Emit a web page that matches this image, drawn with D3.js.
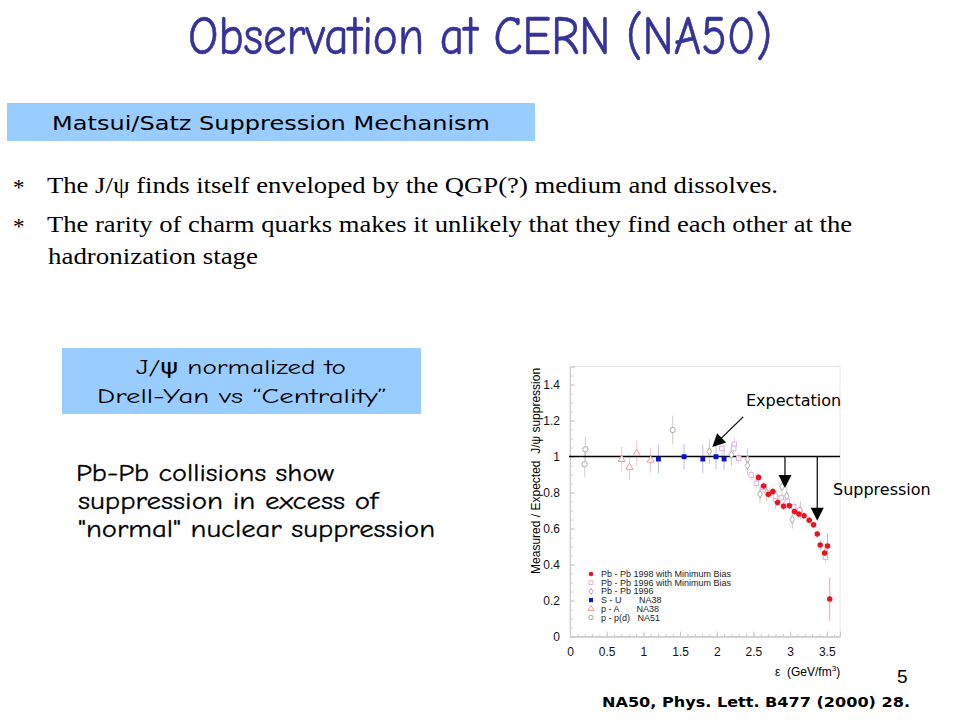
<!DOCTYPE html>
<html lang="en">
<head>
    <meta charset="UTF-8">
    <title>Observation at CERN (NA50)</title>
    <script src="https://d3js.org/d3.v7.min.js"></script>
    <style>
        body { margin: 0; background: #fff; }
        svg { display: block; }
        text { white-space: pre; }
    </style>
</head>
<body>
    <svg id="slide" width="960" height="720"></svg>
    <script>
        // ---- data: [epsilon, ratio, error] ----
        const pbpb98 = [
            [2.57, 0.884, 0.02], [2.64, 0.836, 0.02], [2.705, 0.790, 0.02], [2.765, 0.805, 0.02],
            [2.83, 0.745, 0.02], [2.91, 0.724, 0.02], [2.99, 0.726, 0.02], [3.06, 0.694, 0.02],
            [3.12, 0.681, 0.02], [3.19, 0.671, 0.02], [3.26, 0.646, 0.02], [3.32, 0.621, 0.02],
            [3.37, 0.569, 0.02], [3.41, 0.508, 0.03], [3.47, 0.464, 0.03], [3.51, 0.503, 0.07],
            [3.54, 0.208, 0.12]
        ];
        const pbpb96mb = [
            [2.07, 1.045, 0.04], [2.24, 1.068, 0.04], [2.23, 1.045, 0.03], [2.30, 0.990, 0.03],
            [2.47, 0.897, 0.03], [2.54, 0.851, 0.03], [2.63, 0.830, 0.03], [2.72, 0.800, 0.03],
            [2.80, 0.780, 0.03], [2.88, 0.770, 0.03], [2.96, 0.750, 0.03], [3.05, 0.720, 0.03],
            [3.13, 0.700, 0.03], [3.48, 0.440, 0.04]
        ];
        const pbpb96 = [
            [1.90, 1.027, 0.07], [2.20, 1.010, 0.06], [2.42, 0.984, 0.06], [2.42, 0.950, 0.05],
            [2.59, 0.790, 0.05], [2.68, 0.800, 0.05], [2.80, 0.760, 0.05], [2.89, 0.832, 0.05],
            [2.955, 0.780, 0.05], [3.03, 0.650, 0.05], [3.14, 0.700, 0.05]
        ];
        const su = [
            [1.205, 0.986, 0.08], [1.555, 0.999, 0.07], [1.81, 0.986, 0.08],
            [1.99, 0.999, 0.07], [2.10, 0.986, 0.06]
        ];
        const pA = [
            [0.705, 0.984, 0.07], [0.81, 0.940, 0.07], [0.91, 1.018, 0.07], [1.10, 0.980, 0.07]
        ];
        const pp = [
            [0.21, 1.040, 0.07], [0.20, 0.957, 0.07], [1.40, 1.147, 0.08]
        ];

        const legendLabels = [
            "Pb - Pb 1998 with Minimum Bias",
            "Pb - Pb 1996 with Minimum Bias",
            "Pb - Pb 1996",
            "S - U       NA38",
            "p - A       NA38",
            "p - p(d)   NA51"
        ];
        const xTicks = [0, 0.5, 1, 1.5, 2, 2.5, 3, 3.5];
        const yTicks = [0, 0.2, 0.4, 0.6, 0.8, 1, 1.2, 1.4];

        // annotations in data units
        const expectArrow = { from: [2.36, 1.22], to: [1.94, 1.053] };
        const suppArrows = [[2.93, 0.825], [3.37, 0.643]];

        const bullets = [
            "The J/\u03C8 finds itself enveloped by the QGP(?) medium and dissolves.",
            "The rarity of charm quarks makes it unlikely that they find each other at the",
            "hadronization stage"
        ];
        const note = ["Pb-Pb collisions show", "suppression in excess of", "\"normal\" nuclear suppression"];

        const svg = d3.select("#slide");
        const comic = "'Comic Sans MS', 'Comic Neue', 'DejaVu Sans', sans-serif";
        const arial = "'Liberation Sans', Arial, sans-serif";
        const verdana = "'DejaVu Sans', Verdana, sans-serif";
        const serif = "'Liberation Serif', 'Times New Roman', serif";

        // ---- slide text ----
        svg.append("text")
            .attr("x", 188).attr("y", 54)
            .attr("textLength", 584).attr("lengthAdjust", "spacingAndGlyphs")
            .attr("font-family", comic).attr("font-size", 54)
            .attr("fill", "#333399").attr("stroke", "#333399").attr("stroke-width", 0.6)
            .text("Observation at CERN (NA50)");

        svg.append("rect").attr("x", 7).attr("y", 103).attr("width", 528).attr("height", 38).attr("fill", "#99ccff");
        svg.append("text")
            .attr("x", 52).attr("y", 130)
            .attr("textLength", 438).attr("lengthAdjust", "spacingAndGlyphs")
            .attr("font-family", verdana).attr("font-size", 20)
            .text("Matsui/Satz Suppression Mechanism");

        [193, 232].forEach(yy => {
            svg.append("text").attr("x", 13).attr("y", yy + 2)
                .attr("font-family", serif).attr("font-size", 23).text("*");
        });
        const bulletPos = [[47, 193, 731], [47, 232, 805], [48, 264, 210]];
        bullets.forEach((t, i) => {
            svg.append("text")
                .attr("x", bulletPos[i][0]).attr("y", bulletPos[i][1])
                .attr("textLength", bulletPos[i][2]).attr("lengthAdjust", "spacingAndGlyphs")
                .attr("font-family", serif).attr("font-size", 24)
                .text(t);
        });

        svg.append("rect").attr("x", 62).attr("y", 348).attr("width", 359).attr("height", 66).attr("fill", "#99ccff");
        svg.append("text").attr("x", 136).attr("y", 374)
            .attr("textLength", 210).attr("lengthAdjust", "spacingAndGlyphs")
            .attr("font-family", comic).attr("font-size", 21).text("J/\u03C8 normalized to");
        svg.append("text").attr("x", 97).attr("y", 403)
            .attr("textLength", 290).attr("lengthAdjust", "spacingAndGlyphs")
            .attr("font-family", comic).attr("font-size", 21).text("Drell-Yan vs \u201CCentrality\u201D");

        const notePos = [[76, 481, 258], [78, 509, 300], [78, 537, 357]];
        note.forEach((t, i) => {
            svg.append("text")
                .attr("x", notePos[i][0]).attr("y", notePos[i][1])
                .attr("textLength", notePos[i][2]).attr("lengthAdjust", "spacingAndGlyphs")
                .attr("font-family", comic).attr("font-size", 25)
                .attr("stroke", "#000").attr("stroke-width", 0.3)
                .text(t);
        });

        svg.append("text").attr("x", 897).attr("y", 683)
            .attr("font-family", arial).attr("font-size", 19).text("5");
        svg.append("text").attr("x", 602).attr("y", 707)
            .attr("textLength", 308).attr("lengthAdjust", "spacingAndGlyphs")
            .attr("font-family", verdana).attr("font-weight", "bold")
            .attr("font-size", 14).text("NA50, Phys. Lett. B477 (2000) 28.");

        // ---- chart ----
        const x = d3.scaleLinear().domain([0, 3.68]).range([570, 840]);
        const y = d3.scaleLinear().domain([0, 1.5]).range([636.5, 366.5]);
        const axisCol = "#c8c8c8";

        const chart = svg.append("g");

        // frame
        chart.append("rect")
            .attr("x", x(0)).attr("y", y(1.5))
            .attr("width", x(3.68) - x(0)).attr("height", y(0) - y(1.5))
            .attr("fill", "none").attr("stroke", "#e6e6e6");

        const xMinor = d3.axisBottom(x).tickValues(d3.range(0, 3.65, 0.1)).tickSize(-2.5).tickFormat("");
        const xMajor = d3.axisBottom(x).tickValues(xTicks).tickSize(-5).tickPadding(11).tickFormat(d3.format("~g"));
        const yMinor = d3.axisLeft(y).tickValues(d3.range(0, 1.5, 0.05)).tickSize(-2.5).tickFormat("");
        const yMajor = d3.axisLeft(y).tickValues(yTicks).tickSize(-5).tickPadding(10).tickFormat(d3.format("~g"));

        [xMinor, xMajor].forEach(a => {
            const g = chart.append("g").attr("transform", `translate(0,${y(0)})`).call(a);
            g.selectAll("path, line").attr("stroke", axisCol);
            g.selectAll("text").attr("font-family", arial).attr("font-size", 12).attr("fill", "#111");
        });
        [yMinor, yMajor].forEach(a => {
            const g = chart.append("g").attr("transform", `translate(${x(0)},0)`).call(a);
            g.selectAll("path, line").attr("stroke", axisCol);
            g.selectAll("text").attr("font-family", arial).attr("font-size", 12).attr("fill", "#111");
        });

        chart.append("text")
            .attr("transform", `translate(540,${y(0.92)}) rotate(-90)`)
            .attr("text-anchor", "middle")
            .attr("font-family", arial).attr("font-size", 12)
            .text("Measured / Expected  J/\u03C8 suppression");

        const xl = chart.append("text").attr("x", 775).attr("y", 676)
            .attr("font-family", arial).attr("font-size", 12);
        xl.append("tspan").text("\u03B5  (GeV/fm");
        xl.append("tspan").attr("dy", -5).attr("font-size", 8).text("3");
        xl.append("tspan").attr("dy", 5).text(")");

        const series = [
            { data: pp, color: "#a8a8a8", bar: "#cfcfcf", shape: d3.symbolCircle, size: 22, filled: false },
            { data: pA, color: "#ee9a9a", bar: "#f3c4c4", shape: d3.symbolTriangle, size: 22, filled: false },
            { data: pbpb96, color: "#b4aca4", bar: "#cfcac4", shape: d3.symbolDiamond, size: 18, filled: false },
            { data: pbpb96mb, color: "#dcaee0", bar: "#ecd2ee", shape: d3.symbolSquare, size: 20, filled: false },
            { data: su, color: "#0a14c8", bar: "#b8bde8", shape: d3.symbolSquare, size: 24, filled: true },
            { data: pbpb98, color: "#e8141e", bar: "#f3a0a4", shape: d3.symbolCircle, size: 24, filled: true }
        ];

        // error bars
        series.forEach(s => {
            chart.append("g").selectAll("line").data(s.data).join("line")
                .attr("x1", d => x(d[0])).attr("x2", d => x(d[0]))
                .attr("y1", d => y(d[1] - d[2])).attr("y2", d => y(d[1] + d[2]))
                .attr("stroke", s.bar).attr("stroke-width", 1);
        });

        // reference line at 1
        chart.append("line")
            .attr("x1", x(0) - 1).attr("x2", x(3.68))
            .attr("y1", y(1)).attr("y2", y(1))
            .attr("stroke", "#000").attr("stroke-width", 1.5);

        series.forEach(s => {
            chart.append("g").selectAll("path").data(s.data).join("path")
                .attr("transform", d => `translate(${x(d[0])},${y(d[1])})`)
                .attr("d", d3.symbol(s.shape, s.size))
                .attr("fill", s.filled ? s.color : "#fff")
                .attr("stroke", s.filled ? "none" : s.color)
                .attr("stroke-width", 1);
        });

        // legend (order as in figure)
        const legOrder = [5, 3, 2, 4, 1, 0];
        legOrder.forEach((si, i) => {
            const s = series[si];
            const ly = 574 + i * 8.7;
            chart.append("path")
                .attr("transform", `translate(591,${ly})`)
                .attr("d", d3.symbol(s.shape, s.size * 0.7)())
                .attr("fill", s.filled ? s.color : "#fff")
                .attr("stroke", s.filled ? "none" : s.color);
            chart.append("text")
                .attr("x", 601).attr("y", ly + 3)
                .attr("font-family", arial).attr("font-size", 9).attr("fill", "#222")
                .text(legendLabels[i]);
        });

        // arrows
        const head = (tx, ty, ang) => {
            const L = 13, W = 6.5;
            const bx = tx - L * Math.cos(ang), by = ty - L * Math.sin(ang);
            const px = -Math.sin(ang) * W, py = Math.cos(ang) * W;
            return `M${tx},${ty}L${bx + px},${by + py}L${bx - px},${by - py}Z`;
        };
        const ex1 = x(expectArrow.from[0]), ey1 = y(expectArrow.from[1]);
        const ex2 = x(expectArrow.to[0]), ey2 = y(expectArrow.to[1]);
        const ang = Math.atan2(ey2 - ey1, ex2 - ex1);
        chart.append("line").attr("x1", ex1).attr("y1", ey1)
            .attr("x2", ex2 - 8 * Math.cos(ang)).attr("y2", ey2 - 8 * Math.sin(ang))
            .attr("stroke", "#000").attr("stroke-width", 1.2);
        chart.append("path").attr("d", head(ex2, ey2, ang)).attr("fill", "#000");

        suppArrows.forEach(a => {
            const ax = x(a[0]), ay = y(a[1]);
            chart.append("line").attr("x1", ax).attr("x2", ax)
                .attr("y1", y(1)).attr("y2", ay - 8)
                .attr("stroke", "#000").attr("stroke-width", 1.2);
            chart.append("path").attr("d", head(ax, ay, Math.PI / 2)).attr("fill", "#000");
        });

        chart.append("text").attr("x", 746).attr("y", 406)
            .attr("font-family", verdana).attr("font-size", 16)
            .text("Expectation");
        chart.append("text").attr("x", 833).attr("y", 495)
            .attr("font-family", verdana).attr("font-size", 16)
            .text("Suppression");
    </script>
</body>
</html>
